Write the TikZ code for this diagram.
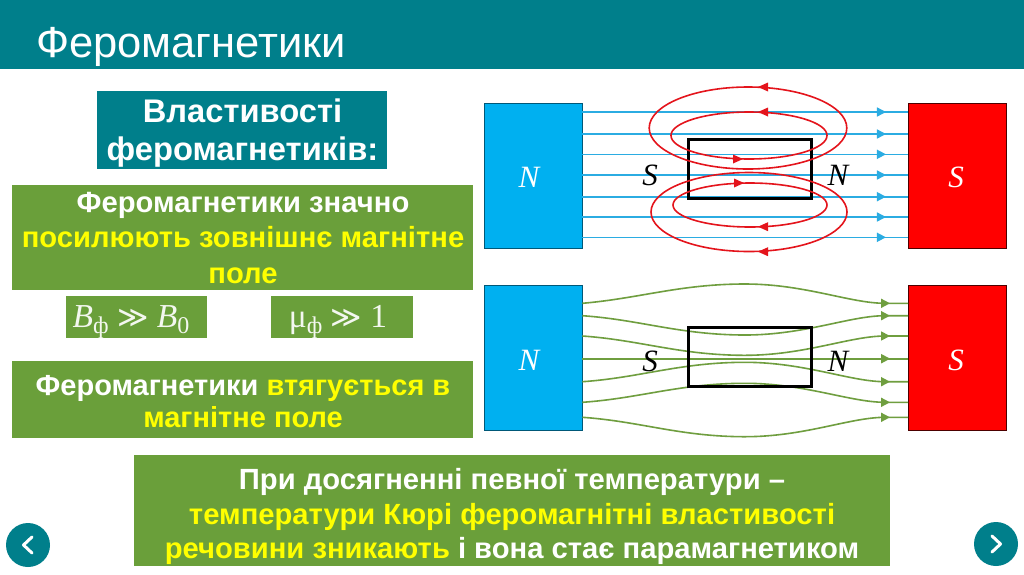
\documentclass[tikz,border=0pt]{standalone}
\usepackage{fontspec}
\setmainfont{Liberation Sans}
\newfontfamily\mathserif{Liberation Serif}
\newfontfamily\symfont{DejaVu Sans}
\usetikzlibrary{arrows.meta,decorations.markings}
\definecolor{teal1}{HTML}{007F8B}
\definecolor{green1}{HTML}{6A9F3A}
\definecolor{lgreen}{HTML}{6F9E3F}
\definecolor{lblue}{HTML}{2BACE2}
\definecolor{nblue}{HTML}{00B0F0}
\definecolor{yell}{HTML}{FFFF00}
\definecolor{redline}{HTML}{E4141C}
\newcommand{\fs}[1]{\fontsize{#1}{#1}\selectfont}
\newcommand{\muchgt}{{\symfont\fs{30}≫}}
\tikzset{
 x=1pt,y=-1pt,
 panel/.style={fill=#1,draw=none,inner sep=0pt,align=center,anchor=north west},
 txt/.style={inner sep=0pt,text=white,align=center},
 magnet/.style={draw=#1,line width=0.8pt,minimum width=98pt,minimum height=145pt,inner sep=0pt},
 pole/.style={inner sep=0pt,font=\fs{31}\mathserif\itshape,text=#1},
 core/.style={draw=black,line width=3pt,minimum width=123pt,minimum height=59pt,inner sep=0pt},
 bluefl/.style={draw=lblue,line width=1.6pt,postaction={decorate},decoration={markings,mark=at position 0.932 with {\arrow[lblue]{Triangle[length=9pt,width=9pt]}}}},
 greenfl/.style={draw=lgreen,line width=1.6pt,postaction={decorate},decoration={markings,mark=at position 0.945 with {\arrow[lgreen]{Triangle[length=9pt,width=9pt]}}}},
 redl/.style={draw=redline,line width=1.6pt},
 circ/.style={circle,fill=teal1,minimum size=44pt,inner sep=0pt},
 chev/.style={draw=white,line width=3pt,line cap=round,line join=round}
}
\newcommand{\redtip}[3]{\fill[redline] (#1+#3*5,#2) -- (#1-#3*5,#2-4.5) -- (#1-#3*5,#2+4.5) -- cycle;}
\newcommand{\gline}[3]{\draw[greenfl] (nb.east |- 0,#1) .. controls (640,#1+#3) and (680,#2) .. (745,#2) .. controls (805,#2) and (850,#1) .. (885,#1) -- (sb.west |- 0,#1);}
\begin{document}
\begin{tikzpicture}
\useasboundingbox (0,0) rectangle (1024,574);
\fill[white] (0,0) rectangle (1024,574);
\node[panel=teal1,minimum width=1024pt,minimum height=69pt] (hd) at (0,0) {};
\node[anchor=base west,inner sep=0pt,text=white,font=\fs{43.5}] (ttl) at (36,57) {Феромагнетики};
% left column
\node[panel=teal1,minimum width=290pt,minimum height=78pt] (b1) at (97,91) {};
\node[txt,font=\fontsize{32.7}{38}\selectfont\bfseries] (b1t) at (242.5,133) {Властивості\\феромагнетиків:};
\node[panel=green1,minimum width=461pt,minimum height=105pt] (b2) at (12,185) {};
\node[txt,font=\fontsize{29.2}{35.5}\selectfont\bfseries] (b2t) at (243,238) {Феромагнетики значно\\\textcolor{yell}{посилюють зовнішнє магнітне}\\\textcolor{yell}{поле}};
\node[panel=green1,minimum width=141pt,minimum height=42pt] (m1) at (66,296) {};
\node[panel=green1,minimum width=142pt,minimum height=42pt] (m2) at (271,296) {};
\node[inner sep=0pt,text=white!92!green1,font=\fs{33.5}\mathserif,anchor=base] (m1t) at (131,327.5) {\textit{B}\raisebox{-6pt}{\fs{24}ф} \muchgt{} \textit{B}\raisebox{-6pt}{\fs{24}0}};
\node[inner sep=0pt,text=white!92!green1,font=\fs{33.5}\mathserif,anchor=base] (m2t) at (338,327.5) {μ\raisebox{-6pt}{\fs{24}ф} \muchgt{} 1};
\node[panel=green1,minimum width=461pt,minimum height=77pt] (b3) at (12,361) {};
\node[txt,font=\fontsize{29}{32}\selectfont\bfseries] (b3t) at (243,402) {Феромагнетики \textcolor{yell}{втягується в}\\\textcolor{yell}{магнітне поле}};
\node[panel=green1,minimum width=756pt,minimum height=111pt] (b4) at (134,455) {};
\node[txt,font=\fontsize{29.2}{34.5}\selectfont\bfseries] (b4t) at (512,516.5) {При досягненні певної температури --\\\textcolor{yell}{температури Кюрі феромагнітні властивості}\\\textcolor{yell}{речовини зникають} і вона стає парамагнетиком};
% nav
\node[circ] (nl) at (28,545) {};
\draw[chev] (32,537) -- (23.5,545) -- (32,553);
\node[circ] (nr) at (996,544) {};
\draw[chev] (992,536) -- (1000.5,544) -- (992,552);
% upper diagram
\node[magnet=black!50!nblue,fill=nblue] (nb) at (533,175.5) {};
\node[magnet=black!70!red,fill=red] (sb) at (957.5,175.5) {};
\foreach \yy in {112,134,154.3,175,196.7,217,237.3}{
 \draw[bluefl] (nb.east |- 0,\yy) -- (sb.west |- 0,\yy);
}
\node[core] (c1) at (749.5,168.5) {};
\draw[redl] (748,128) ellipse [x radius=98.8,y radius=41];
\draw[redl] (749,135.5) ellipse [x radius=78,y radius=23.5];
\draw[redl] (749,212) ellipse [x radius=98,y radius=39.5];
\draw[redl] (750,205) ellipse [x radius=77,y radius=22];
\redtip{763}{87}{-1}
\redtip{763}{112}{-1}
\redtip{738}{159}{1}
\redtip{739}{183}{1}
\redtip{763}{226.7}{-1}
\redtip{763}{251.7}{-1}
\node[pole=white] (n1) at (529,177) {N};
\node[pole=white] (s1) at (956,177) {S};
\node[pole=black] (s1b) at (650,175) {S};
\node[pole=black] (n1b) at (838,175) {N};
% lower diagram
\node[magnet=black!50!nblue,fill=nblue] (nb) at (533,357.5) {};
\node[magnet=black!70!red,fill=red] (sb) at (957.5,357.5) {};
\gline{303.3}{284}{-5}
\gline{315.7}{335}{4}
\gline{336}{355.3}{4}
\gline{358.7}{358.7}{0}
\gline{381.7}{362.3}{-4}
\gline{402.3}{383.3}{-4}
\gline{417.3}{436.7}{4}
\node[core] (c2) at (749.5,356.5) {};
\node[pole=white] (n2) at (529,360) {N};
\node[pole=white] (s2) at (956,360) {S};
\node[pole=black] (s2b) at (650,361) {S};
\node[pole=black] (n2b) at (838,361) {N};
\end{tikzpicture}
\end{document}
